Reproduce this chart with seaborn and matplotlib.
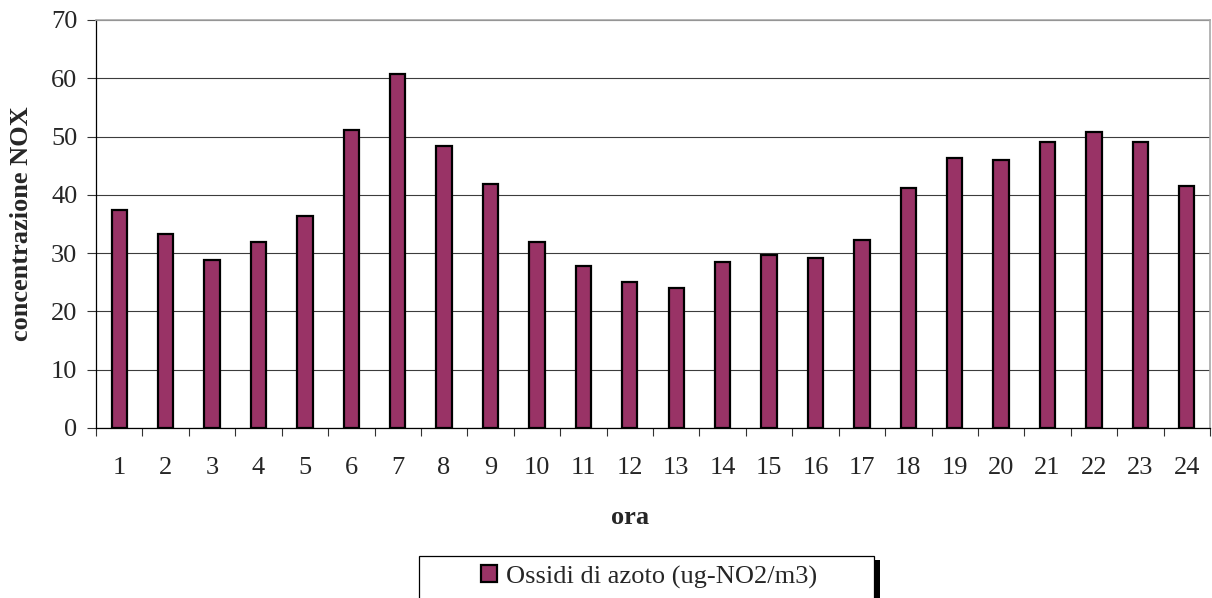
import numpy as np
import pandas as pd
import matplotlib
matplotlib.use("Agg")
import matplotlib.pyplot as plt
from matplotlib.patches import Rectangle
import seaborn as sns

# Hourly NOx concentration
ore = [str(h) for h in range(1, 25)]
valori = [37.4, 33.2, 28.9, 31.9, 36.4, 51.1, 60.7, 48.4, 41.9, 31.9, 27.8, 25.0,
          24.1, 28.5, 29.6, 29.2, 32.3, 41.2, 46.3, 46.0, 49.1, 50.8, 49.1, 41.5]
serie = "Ossidi di azoto (ug-NO2/m3)"
y_ticks = [0, 10, 20, 30, 40, 50, 60, 70]

sns.set_style("white")
plt.rcParams["font.family"] = ["Liberation Serif", "DejaVu Serif"]

W, H = 1212, 598
FS = 19
fig = plt.figure(figsize=(W / 100, H / 100), dpi=100)
ax = fig.add_axes([96 / W, (H - 428) / H, (1210 - 96) / W, 408 / H])

df = pd.DataFrame({"ora": ore, "valore": valori})
sns.barplot(data=df, x="ora", y="valore", order=ore, color="#993366",
            width=0.33, edgecolor="black", linewidth=1.6, saturation=1,
            label=serie, ax=ax, zorder=3)

ax.set_ylim(0, 70)
ax.set_yticks(y_ticks)
ax.set_xlim(-0.5, len(ore) - 0.5)
ax.yaxis.grid(True, color="#3c3c3c", linewidth=0.8, zorder=0)
ax.xaxis.grid(False)

# category boundary ticks
ax.set_xticks(np.arange(-0.5, len(ore), 1.0), minor=True)
ax.tick_params(axis="x", which="minor", bottom=True, length=6, width=0.8,
               color="#333333", direction="out")
ax.tick_params(axis="x", which="major", bottom=True, length=0, pad=21,
               labelsize=FS)
ax.tick_params(axis="y", which="major", left=True, length=6.5, width=0.8,
               color="#333333", direction="out", pad=7, labelsize=FS)

for s in ("left", "bottom"):
    ax.spines[s].set_color("black")
    ax.spines[s].set_linewidth(0.9)
for s in ("top", "right"):
    ax.spines[s].set_visible(True)
    ax.spines[s].set_color("#a8a8a8")
    ax.spines[s].set_linewidth(1.2)

ax.set_ylabel("concentrazione NOX", fontsize=FS, fontweight="bold")
ax.yaxis.set_label_coords((33 - 96) / (1210 - 96), 0.5)
ax.set_xlabel("ora", fontsize=FS, fontweight="bold")
ax.xaxis.set_label_coords((630 - 96) / (1210 - 96), (428 - 518) / 408)
ax.xaxis.label.set_verticalalignment("center")

# legend box with shadow, drawn beneath the axes layer
fig.patches.append(Rectangle((874 / W, -0.05), 6 / W, (H - 560) / H + 0.05,
                             transform=fig.transFigure, facecolor="black",
                             edgecolor="none", zorder=-2))
fig.patches.append(Rectangle((419 / W, -0.05), 455 / W, (H - 556) / H + 0.05,
                             transform=fig.transFigure, facecolor="white",
                             edgecolor="black", linewidth=0.9, zorder=-1))
leg = ax.legend(loc="center", bbox_to_anchor=(649 / W, (H - 577) / H),
                bbox_transform=fig.transFigure, frameon=False, fontsize=FS,
                handlelength=0.6, handleheight=0.6, handletextpad=0.35,
                borderpad=0, borderaxespad=0)

fig.savefig("out.png", dpi=100, facecolor="white")
